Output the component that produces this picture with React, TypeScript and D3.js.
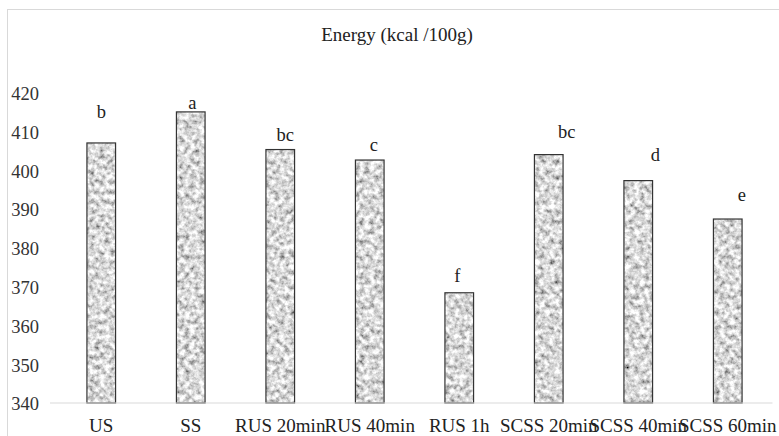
import React from "react";
import * as d3 from "d3";

// chart values
const categories = ["US", "SS", "RUS 20min", "RUS 40min", "RUS 1h", "SCSS 20min", "SCSS 40min", "SCSS 60min"];
const energy = [407, 415, 405.3, 402.6, 368.4, 404, 397.3, 387.4];
const letters = ["b", "a", "bc", "c", "f", "bc", "d", "e"];
// where each letter sits (kcal units) and its sideways nudge as in the original
const letterAt = [413.5, 415.8, 407.4, 404.8, 371.2, 408.3, 402.3, 392];
const letterShift = [0, 1.5, 5, 4, -2, 18, 17, 14];
const yTicks = [340, 350, 360, 370, 380, 390, 400, 410, 420];

const W = 779;
const H = 436;
const FONT = "'Liberation Serif', 'Times New Roman', Times, serif";

export default function App() {
  const x = d3.scaleBand<string>().domain(categories).range([56.5, 772.5]).padding(0);
  const y = d3.scaleLinear().domain([340, 420]).range([403, 92.5]);
  const barW = x.bandwidth() * 0.32;
  const cx = (c: string) => (x(c) as number) + x.bandwidth() / 2;

  return (
    <div style={{ position: "absolute", left: 0, top: 0 }}>
      <svg width={W} height={H} style={{ display: "block", background: "#fff", fontFamily: FONT }}>
        <defs>
          <filter id="granite" x="0" y="0" width={W} height={H} filterUnits="userSpaceOnUse">
            <feTurbulence type="fractalNoise" baseFrequency="0.2" numOctaves="3" seed="7" result="noise" />
            <feColorMatrix
              in="noise"
              type="matrix"
              values="1.5 0 0 0 -0.06  1.5 0 0 0 -0.06  1.5 0 0 0 -0.06  0 0 0 0 1"
              result="grey"
            />
            <feComposite in="grey" in2="SourceAlpha" operator="in" />
          </filter>
        </defs>

        {/* chart frame */}
        <rect x={7.5} y={9.5} width={900} height={600} fill="none" stroke="#d9d9d9" />

        <text x={397} y={41} textAnchor="middle" fontSize={19} fill="#222">
          Energy (kcal /100g)
        </text>

        {yTicks.map((t) => (
          <text key={t} x={39} y={y(t) + 1} dy="0.35em" textAnchor="end" fontSize={18.5} fill="#333">
            {t}
          </text>
        ))}

        <g filter="url(#granite)">
          {categories.map((c, i) => (
            <rect key={c} x={cx(c) - barW / 2} y={y(energy[i])} width={barW} height={y(340) - y(energy[i])} fill="#000" />
          ))}
        </g>
        {categories.map((c, i) => (
          <rect
            key={c + "o"}
            x={cx(c) - barW / 2}
            y={y(energy[i])}
            width={barW}
            height={y(340) - y(energy[i])}
            fill="none"
            stroke="#333"
            strokeWidth={1.2}
          />
        ))}

        <line x1={50} x2={772.5} y1={y(340)} y2={y(340)} stroke="#d9d9d9" strokeWidth={1} />

        {categories.map((c, i) => (
          <text key={c + "l"} x={cx(c) + letterShift[i]} y={y(letterAt[i])} textAnchor="middle" fontSize={18.5} fill="#222">
            {letters[i]}
          </text>
        ))}

        {categories.map((c) => (
          <text key={c + "x"} x={cx(c)} y={432} textAnchor="middle" fontSize={19} fill="#222">
            {c}
          </text>
        ))}
      </svg>
    </div>
  );
}
